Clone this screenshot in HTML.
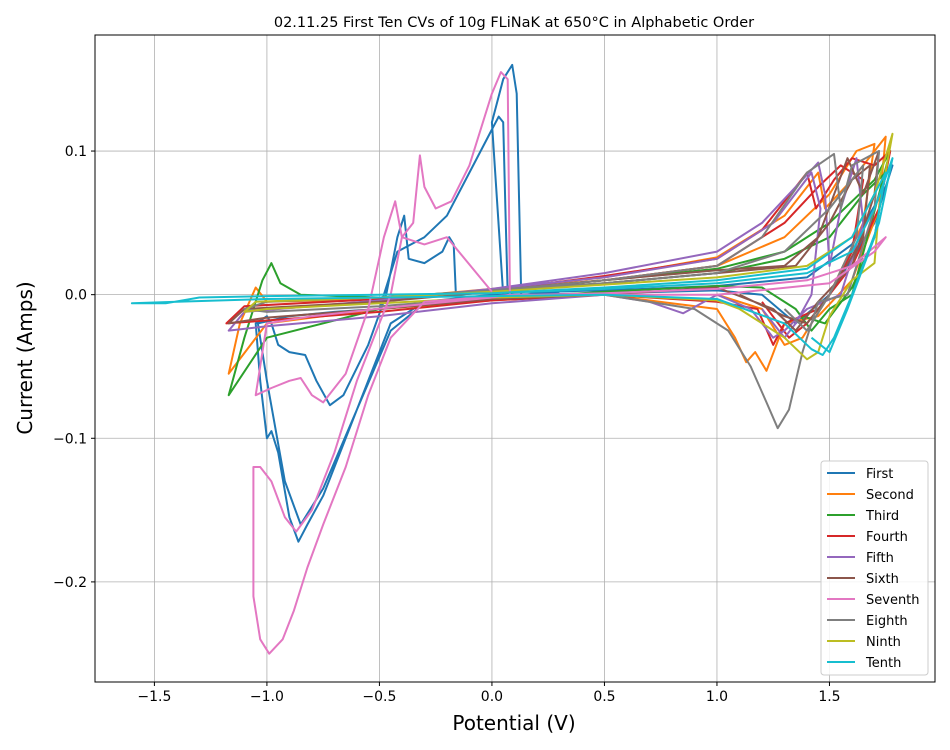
<!DOCTYPE html>
<html><head><meta charset="utf-8">
<style>
body{margin:0;background:#fff;}
svg{display:block;font-family:"DejaVu Sans","Liberation Sans",sans-serif;}
</style></head>
<body>
<svg id="chart" width="950" height="750" viewBox="0 0 950 750">
<text x="514" y="27" font-size="14.5" text-anchor="middle">02.11.25 First Ten CVs of 10g FLiNaK at 650°C in Alphabetic Order</text>
<g id="grid"></g>
<g id="series"></g>
<rect x="95" y="35" width="840" height="647" fill="none" stroke="#000" stroke-width="1"/>
<g id="ticks"></g>
<text x="514" y="730" font-size="20" text-anchor="middle">Potential (V)</text>
<text x="32" y="358" font-size="20" text-anchor="middle" transform="rotate(-90 32 358)">Current (Amps)</text>
<g id="legend"></g>
</svg>
<script>
const xTicks=[-1.5,-1.0,-0.5,0.0,0.5,1.0,1.5];
const yTicks=[0.1,0.0,-0.1,-0.2];
const yTickLabels=["0.1","0.0","\u22120.1","\u22120.2"];
const xTickLabels=["\u22121.5","\u22121.0","\u22120.5","0.0","0.5","1.0","1.5"];
const seriesNames=["First","Second","Third","Fourth","Fifth","Sixth","Seventh","Eighth","Ninth","Tenth"];
const seriesColors=["#1f77b4","#ff7f0e","#2ca02c","#d62728","#9467bd","#8c564b","#e377c2","#7f7f7f","#bcbd22","#17becf"];
const sFirst=[[0.2,0.002],[0.5,0.003],[1.0,0.006],[1.4,0.012],[1.6,0.035],[1.75,0.075],[1.78,0.09],[1.7,0.05],[1.5,0.0],[1.35,-0.02],[1.2,0.0],[1.0,0.003],[0.5,0.001],[0.0,0.0],[-0.3,-0.005],[-0.45,-0.02],[-0.55,-0.06],[-0.65,-0.1],[-0.75,-0.14],[-0.82,-0.16],[-0.86,-0.172],[-0.9,-0.155],[-0.95,-0.11],[-0.98,-0.095],[-1.0,-0.1],[-1.03,-0.06],[-1.05,-0.02],[-1.0,-0.015],[-0.98,-0.02],[-0.95,-0.035],[-0.9,-0.04],[-0.83,-0.042],[-0.78,-0.06],[-0.72,-0.077],[-0.66,-0.07],[-0.55,-0.035],[-0.47,0.0],[-0.42,0.04],[-0.39,0.055],[-0.37,0.025],[-0.3,0.022],[-0.22,0.03],[-0.19,0.04],[-0.17,0.035],[-0.16,0.0],[0.1,0.003],[0.3,0.0],[0.0,-0.002],[-0.3,-0.006],[-0.45,-0.025],[-0.6,-0.08],[-0.75,-0.135],[-0.85,-0.16],[-0.92,-0.13],[-1.0,-0.06],[-1.04,-0.02],[-0.9,-0.015],[-0.7,-0.012],[-0.5,-0.01],[-0.42,0.03],[-0.3,0.04],[-0.2,0.055],[-0.1,0.085],[0.0,0.115],[0.03,0.124],[0.05,0.12],[0.06,0.06],[0.07,0.0],[0.05,0.0],[0.0,0.12],[0.05,0.15],[0.09,0.16],[0.11,0.14],[0.13,0.0],[0.3,0.002]];
const sSecond=[[0,0.004],[0.5,0.012],[1.0,0.026],[1.3,0.055],[1.45,0.085],[1.48,0.06],[1.6,0.08],[1.7,0.1],[1.75,0.11],[1.72,0.06],[1.6,0.01],[1.45,-0.015],[1.3,-0.02],[1.22,-0.053],[1.17,-0.04],[1.13,-0.047],[1.08,-0.03],[1.0,-0.01],[0.5,0.0],[0,-0.004],[-0.5,-0.01],[-1.0,-0.02],[-1.17,-0.055],[-1.12,-0.02],[-1.05,0.005],[-1.0,-0.005],[-0.5,-0.003],[0,0.004],[0.5,0.01],[1.0,0.02],[1.3,0.04],[1.5,0.07],[1.62,0.1],[1.7,0.105],[1.65,0.05],[1.5,0.0],[1.38,-0.03],[1.3,-0.035],[1.2,-0.01],[1.0,0.0]];
const sThird=[[0,0.003],[0.5,0.01],[1.0,0.018],[1.3,0.03],[1.5,0.05],[1.7,0.08],[1.77,0.1],[1.72,0.07],[1.6,0.0],[1.5,-0.01],[1.42,-0.025],[1.35,-0.01],[1.2,0.005],[1.0,0.006],[0.5,0.002],[0,-0.003],[-0.5,-0.01],[-1.0,-0.03],[-1.17,-0.07],[-1.1,-0.03],[-1.02,0.01],[-0.98,0.022],[-0.94,0.008],[-0.85,0.0],[-0.5,-0.002],[0,0.003],[0.5,0.008],[1.0,0.015],[1.3,0.025],[1.5,0.04],[1.65,0.07],[1.75,0.085],[1.7,0.04],[1.6,0.005],[1.48,-0.02],[1.38,-0.015]];
const sFourth=[[0,0.003],[0.5,0.013],[1.0,0.025],[1.2,0.045],[1.4,0.085],[1.44,0.06],[1.52,0.08],[1.6,0.095],[1.7,0.09],[1.77,0.1],[1.72,0.06],[1.6,0.02],[1.45,-0.01],[1.3,-0.02],[1.25,-0.035],[1.18,-0.01],[1.0,-0.005],[0.5,0.0],[0,-0.004],[-0.5,-0.012],[-1.0,-0.018],[-1.18,-0.02],[-1.1,-0.008],[-0.5,-0.003],[0,0.003],[0.5,0.01],[1.0,0.02],[1.3,0.05],[1.45,0.075],[1.55,0.09],[1.65,0.08],[1.6,0.03],[1.5,0.0],[1.4,-0.02],[1.32,-0.03],[1.2,-0.005]];
const sFifth=[[0,0.004],[0.5,0.015],[1.0,0.03],[1.2,0.05],[1.35,0.075],[1.45,0.092],[1.48,0.07],[1.5,0.02],[1.55,0.06],[1.62,0.095],[1.65,0.05],[1.55,0.0],[1.4,-0.01],[1.3,-0.025],[1.25,-0.03],[1.15,-0.01],[1.0,0.0],[0.85,-0.013],[0.7,-0.005],[0.5,0.0],[0,-0.006],[-0.5,-0.015],[-1.0,-0.022],[-1.17,-0.025],[-1.1,-0.012],[-0.5,-0.004],[0,0.004],[0.5,0.012],[1.0,0.025],[1.25,0.05],[1.42,0.085],[1.46,0.06],[1.42,0.0],[1.35,-0.02],[1.3,-0.03],[1.2,-0.01]];
const sSixth=[[0,0.002],[0.5,0.01],[1.0,0.017],[1.3,0.02],[1.45,0.04],[1.58,0.095],[1.65,0.07],[1.72,0.1],[1.7,0.07],[1.6,0.02],[1.45,-0.005],[1.35,-0.025],[1.25,-0.01],[1.0,0.005],[0.5,0.0],[0,-0.003],[-0.5,-0.01],[-1.0,-0.016],[-1.17,-0.02],[-1.1,-0.01],[-0.5,-0.005],[0,0.002],[0.5,0.008],[1.0,0.015],[1.35,0.02],[1.5,0.05],[1.6,0.08],[1.68,0.09],[1.65,0.04],[1.5,0.0],[1.4,-0.02],[1.3,-0.015],[1.1,0.0]];
const sSeventh=[[0.2,0.0],[0.5,0.001],[1.0,0.004],[1.4,0.01],[1.6,0.02],[1.75,0.04],[1.7,0.03],[1.5,0.008],[1.0,0.0],[0.5,0.0],[0.1,0.0],[-0.3,-0.005],[-0.45,-0.03],[-0.55,-0.07],[-0.65,-0.12],[-0.75,-0.16],[-0.82,-0.19],[-0.88,-0.22],[-0.93,-0.24],[-0.99,-0.25],[-1.03,-0.24],[-1.06,-0.21],[-1.06,-0.12],[-1.03,-0.12],[-0.98,-0.13],[-0.92,-0.155],[-0.87,-0.165],[-0.8,-0.15],[-0.7,-0.11],[-0.6,-0.06],[-0.5,-0.02],[-0.45,0.0],[-0.4,0.04],[-0.35,0.05],[-0.32,0.097],[-0.3,0.075],[-0.25,0.06],[-0.18,0.065],[-0.1,0.09],[0.0,0.14],[0.04,0.155],[0.07,0.15],[0.08,0.0],[0.0,-0.002],[-0.4,-0.008],[-0.8,-0.015],[-1.0,-0.02],[-1.05,-0.07],[-0.98,-0.065],[-0.9,-0.06],[-0.85,-0.058],[-0.8,-0.07],[-0.75,-0.075],[-0.65,-0.055],[-0.55,-0.01],[-0.48,0.04],[-0.43,0.065],[-0.4,0.04],[-0.3,0.035],[-0.2,0.04],[0.0,0.002]];
const sEighth=[[0,0.003],[0.5,0.01],[1.0,0.02],[1.2,0.04],[1.4,0.085],[1.52,0.098],[1.55,0.06],[1.6,0.09],[1.72,0.1],[1.7,0.06],[1.58,0.0],[1.45,-0.005],[1.38,-0.04],[1.32,-0.08],[1.27,-0.093],[1.22,-0.075],[1.15,-0.05],[1.05,-0.025],[0.9,-0.01],[0.5,0.0],[0,-0.002],[-0.5,-0.008],[-1.0,-0.012],[-1.1,-0.01],[-1.0,-0.005],[-0.5,-0.002],[0,0.003],[0.5,0.008],[1.0,0.015],[1.3,0.03],[1.5,0.06],[1.65,0.09],[1.62,0.04],[1.5,0.0],[1.4,-0.025],[1.3,-0.01]];
const sNinth=[[0,0.002],[0.5,0.007],[1.0,0.012],[1.4,0.02],[1.6,0.04],[1.7,0.07],[1.78,0.112],[1.72,0.06],[1.7,0.022],[1.6,0.01],[1.5,-0.015],[1.45,-0.04],[1.4,-0.045],[1.3,-0.03],[1.1,-0.01],[1.0,-0.004],[0.5,0.0],[0,-0.002],[-0.5,-0.006],[-1.0,-0.01],[-1.1,-0.012],[-1.05,-0.005],[-0.5,-0.002],[0,0.002]];
const sTenth=[[0,0.001],[0.5,0.004],[1.0,0.008],[1.4,0.015],[1.6,0.03],[1.7,0.06],[1.78,0.095],[1.72,0.05],[1.6,0.0],[1.52,-0.03],[1.47,-0.042],[1.42,-0.038],[1.3,-0.02],[1.0,-0.003],[0.5,0.0],[0,-0.001],[-0.5,-0.002],[-1.0,-0.003],[-1.4,-0.005],[-1.6,-0.006],[-1.45,-0.006],[-1.3,-0.002],[-1.0,-0.001],[-0.5,0.0],[0,0.001],[0.5,0.005],[1.0,0.01],[1.4,0.018],[1.6,0.04],[1.75,0.085],[1.7,0.04],[1.58,-0.01],[1.5,-0.04],[1.42,-0.03]];
const allSeries=[sFirst,sSecond,sThird,sFourth,sFifth,sSixth,sSeventh,sEighth,sNinth,sTenth];
const drawOrder=[0,1,2,3,4,5,7,8,6,9];

const X0=95,X1=935,Y0=35,Y1=682,XMIN=-1.764,XMAX=1.969,YMIN=-0.2697,YMAX=0.1808;
function xs(v){return X0+(v-XMIN)/(XMAX-XMIN)*(X1-X0);}
function ys(v){return Y1-(v-YMIN)/(YMAX-YMIN)*(Y1-Y0);}
const NS="http://www.w3.org/2000/svg";
function mk(t,a){const e=document.createElementNS(NS,t);for(const k in a)e.setAttribute(k,a[k]);return e;}
const grid=document.getElementById('grid'),ticks=document.getElementById('ticks');
xTicks.forEach((v,i)=>{
  const l=mk('line',{x1:xs(v),x2:xs(v),y1:Y0,y2:Y1,stroke:'#b0b0b0','stroke-width':0.8});
  
  
  grid.appendChild(l);
  const tk=mk('line',{x1:xs(v),x2:xs(v),y1:Y1,y2:Y1+4,stroke:'#000'});
  
  
  ticks.appendChild(tk);
  const t=mk('text',{x:xs(v),y:Y1+19,'font-size':14,'text-anchor':'middle'});
  t.textContent=xTickLabels[i];
  
  
  ticks.appendChild(t);
});
yTicks.forEach((v,i)=>{
  const l=mk('line',{x1:X0,x2:X1,y1:ys(v),y2:ys(v),stroke:'#b0b0b0','stroke-width':0.8});
  
  
  grid.appendChild(l);
  const tk=mk('line',{x1:X0-4,x2:X0,y1:ys(v),y2:ys(v),stroke:'#000'});
  
  
  ticks.appendChild(tk);
  const t=mk('text',{x:X0-8,y:ys(v)+5,'font-size':14,'text-anchor':'end'});
  t.textContent=yTickLabels[i];
  
  
  ticks.appendChild(t);
});
const sg=document.getElementById('series');
drawOrder.forEach(i=>{
  const d=allSeries[i].map((p,j)=>(j?'L':'M')+xs(p[0]).toFixed(1)+','+ys(p[1]).toFixed(1)).join('');
  const p=mk('path',{d:d,fill:'none',stroke:seriesColors[i],'stroke-width':2,'stroke-linejoin':'round'});
  
  
  sg.appendChild(p);
});
const lg=document.getElementById('legend');
const box=mk('rect',{x:821,y:461,width:107,height:214,fill:'#fff','fill-opacity':0.85,stroke:'#ccc',rx:3});


lg.appendChild(box);
seriesNames.forEach((n,i)=>{
  const y=473+i*21;
  const l=mk('line',{x1:827,x2:855,y1:y,y2:y,stroke:seriesColors[i],'stroke-width':2});
  
  
  lg.appendChild(l);
  const t=mk('text',{x:866,y:y+5,'font-size':13});
  t.textContent=n;
  
  
  lg.appendChild(t);
});
</script>
</body></html>
